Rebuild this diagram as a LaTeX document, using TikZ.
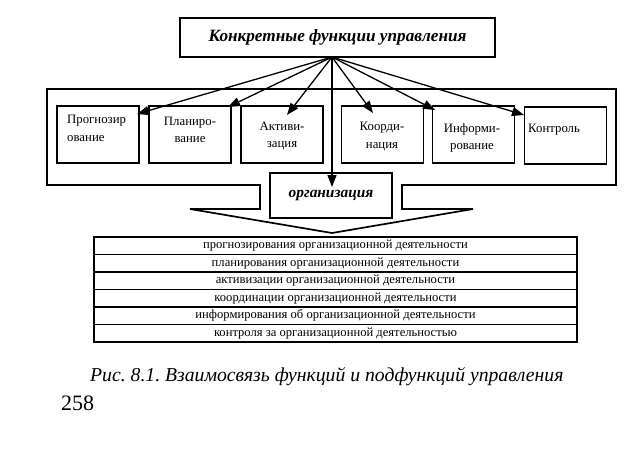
\documentclass[tikz,border=0pt]{standalone}
\usepackage{fontspec}
\setmainfont{Liberation Serif}
\usetikzlibrary{arrows.meta}
\frenchspacing
\begin{document}
\begin{tikzpicture}[x=1pt,y=-1pt,
  frame/.style={draw=black,line width=1.7pt,fill=white},
  fbox/.style={draw=black,line width=1.5pt,fill=white,minimum width=82pt,minimum height=57pt,inner sep=0pt},
  lbl/.style={font=\fontsize{12.8}{17.5}\selectfont,align=center,inner sep=0pt},
  row/.style={draw=black,line width=1.3pt,minimum width=483pt,minimum height=17.5pt,inner sep=0pt,font=\fontsize{12.6}{14}\selectfont},
  arr/.style={line width=1.3pt,-{Triangle[length=12pt,width=9pt]}}]
\useasboundingbox (0,0) rectangle (626,451);
% block arrow frame
\draw[frame] (47,89) -- (616,89) -- (616,185) -- (402,185) -- (402,209) -- (473,209)
  -- (332,233) -- (190,209) -- (260,209) -- (260,185) -- (47,185) -- cycle;
% top box
\node[draw=black,line width=1.5pt,fill=white,minimum width=315pt,minimum height=39pt,inner sep=0pt,
  font=\fontsize{17.2}{20}\selectfont\bfseries\itshape] (top) at (337.5,37.5) {Конкретные функции управления};
% function boxes
\node[fbox] (b1) at (98,134.5) {};
\node[fbox] (b2) at (190,134.5) {};
\node[fbox] (b3) at (282,134.5) {};
\node[fbox] (b4) at (382.5,134.5) {};
\node[fbox] (b5) at (473.5,134.5) {};
\node[fbox] (b6) at (565.5,135.5) {};
\node[lbl,align=left,anchor=west] (l1) at (67,128.5) {Прогнозир\\ование};
\node[lbl] (l2) at (190,130) {Планиро-\\вание};
\node[lbl] (l3) at (282,136) {Активи-\\зация};
\node[lbl] (l4) at (382,136.5) {Коорди-\\нация};
\node[lbl] (l5) at (472,138) {Информи-\\рование};
\node[lbl,anchor=west] (l6) at (528,130) {Контроль};
% organisation box
\node[draw=black,line width=1.5pt,fill=white,minimum width=122pt,minimum height=45pt,inner sep=0pt,
  font=\fontsize{15.4}{18}\selectfont\bfseries\itshape] (org) at (331,195.5) {организация};
% arrows
\coordinate (o) at (332,57);
\coordinate (t1) at (137,114);
\coordinate (t2) at (228,107);
\coordinate (t3) at (287,115);
\coordinate (t4) at (332,187);
\coordinate (t5) at (373,113);
\coordinate (t6) at (435,110);
\coordinate (t7) at (524,115);
\foreach \t in {t1,t2,t3,t4,t5,t6,t7} \draw[arr] (o) -- (\t);
% table
\foreach \i/\txt in {1/прогнозирования организационной деятельности,
  2/планирования организационной деятельности,
  3/активизации организационной деятельности,
  4/координации организационной деятельности,
  5/информирования об организационной деятельности,
  6/контроля за организационной деятельностью}
  \node[row] (r\i) at (335.5,{237+17.5*(\i-0.5)}) {\txt};
% caption
\node[anchor=base west,inner sep=0pt,font=\fontsize{19.7}{22}\selectfont\itshape] (cap) at (90,381) {Рис. 8.1. Взаимосвязь функций и подфункций управления};
\node[anchor=base west,inner sep=0pt,font=\fontsize{22}{24}\selectfont] (pg) at (61,410) {258};
\end{tikzpicture}
\end{document}
